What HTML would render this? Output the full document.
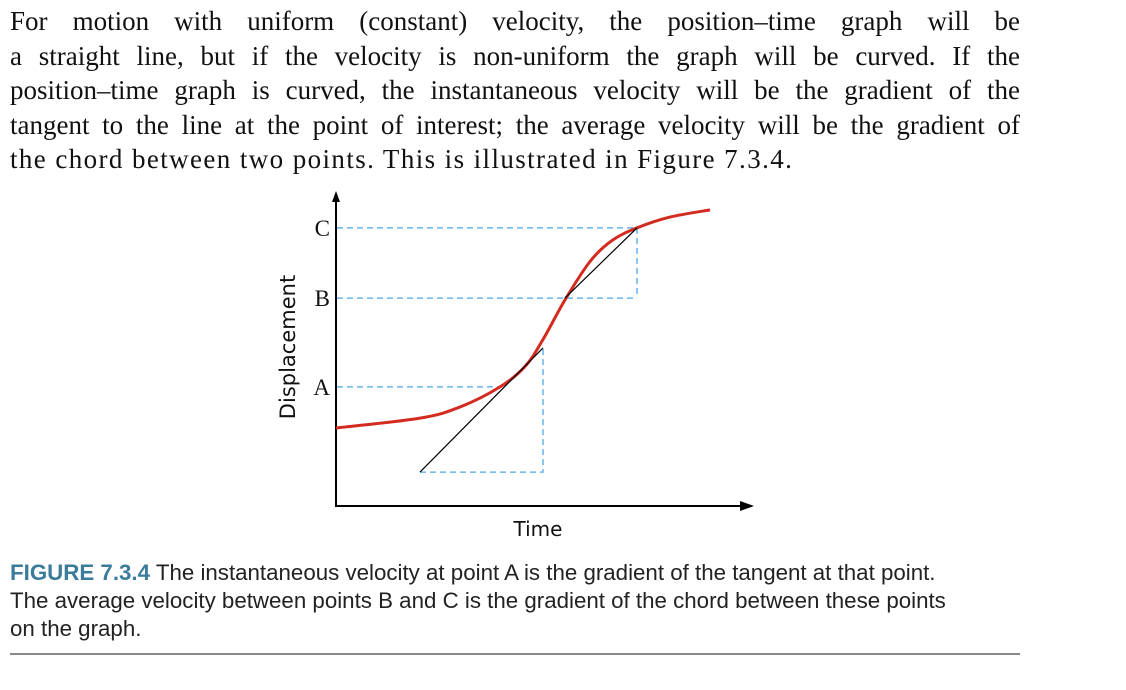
<!DOCTYPE html>
<html><head><meta charset="utf-8"><style>
body{margin:0;background:#fff;width:1126px;height:690px;overflow:hidden;position:relative}
#para{position:absolute;left:10px;top:4px;width:1010px;font-family:"Liberation Serif",serif;font-size:27px;line-height:34.5px;color:#111}
#para div{text-align:justify;text-align-last:justify;white-space:nowrap}
#para div.last{text-align-last:left;letter-spacing:1.4px}
#cap{position:absolute;left:10px;top:559px;width:1050px;font-family:"Liberation Sans Narrow","Liberation Sans",sans-serif;font-size:22.3px;line-height:28px;color:#222}
#cap b{color:#3b7c9c}
#rule{position:absolute;left:10px;top:653px;width:1010px;height:2px;background:#8a8a8a}
svg{position:absolute;left:0;top:0}
</style></head><body>
<div id="para">
<div>For motion with uniform (constant) velocity, the position–time graph will be</div>
<div>a straight line, but if the velocity is non-uniform the graph will be curved. If the</div>
<div>position–time graph is curved, the instantaneous velocity will be the gradient of the</div>
<div>tangent to the line at the point of interest; the average velocity will be the gradient of</div>
<div class="last">the chord between two points. This is illustrated in Figure 7.3.4.</div>
</div>
<svg id="chart" width="1126" height="690"></svg>
<div id="cap"><b>FIGURE 7.3.4</b> The instantaneous velocity at point A is the gradient of the tangent at that point.<br>The average velocity between points B and C is the gradient of the chord between these points<br>on the graph.</div>
<div id="rule"></div>
<script>
const curveT=[0,21,31,41,47.25,51.75,57.25,63.5,69,75.25,83.5,93.5];
const curveD=[26,29.3,33,39.7,46.5,55.5,68.7,81.5,88.5,92.7,96.3,98.7];
const levelNames=["A","B","C"];
const levelD=[39.7,69.3,92.7];
const levelT=[41,75.25,75.25];
const tangentT=[21,51.75];
const tangentD=[11.3,52.7];
const chordT=[57.25,75.25];
const chordD=[69.3,92.7];
const NS="http://www.w3.org/2000/svg";
const svg=document.getElementById('chart');
const x=t=>336+t*4, y=d=>506-d*3;
function mk(tag,attrs){const e=document.createElementNS(NS,tag);for(const k in attrs)e.setAttribute(k,attrs[k]);svg.appendChild(e);return e;}
let e=mk('line',{x1:336,y1:506,x2:336,y2:200,stroke:'#000','stroke-width':2});


e=mk('polygon',{points:'336,191 332,202 340,202',fill:'#000'});


e=mk('line',{x1:335,y1:506,x2:742,y2:506,stroke:'#000','stroke-width':2});


e=mk('polygon',{points:'754,506 740,501 740,511',fill:'#000'});


const dash={stroke:'#4aa8e8','stroke-width':1.3,'stroke-dasharray':'6,4',fill:'none'};
levelD.forEach((d,i)=>{
  const l=mk('line',Object.assign({x1:337,y1:y(d),x2:x(levelT[i]),y2:y(d)},dash));
  
  
  const t=mk('text',{x:330,y:y(d)+8,'text-anchor':'end','font-family':'Liberation Serif, serif','font-size':23,fill:'#111'});
  t.textContent=levelNames[i];
  
  
});
e=mk('line',Object.assign({x1:x(chordT[1]),y1:y(chordD[1]),x2:x(chordT[1]),y2:y(chordD[0])},dash));


e=mk('path',Object.assign({d:`M${x(tangentT[0])},${y(tangentD[0])} H${x(tangentT[1])} V${y(tangentD[1])}`},dash));


const P=curveT.map((t,i)=>[x(t),y(curveD[i])]);
let d=`M${P[0][0]},${P[0][1]}`;
for(let i=0;i<P.length-1;i++){
  const p0=P[i-1]||P[i],p1=P[i],p2=P[i+1],p3=P[i+2]||p2;
  d+=` C${p1[0]+(p2[0]-p0[0])/6},${p1[1]+(p2[1]-p0[1])/6} ${p2[0]-(p3[0]-p1[0])/6},${p2[1]-(p3[1]-p1[1])/6} ${p2[0]},${p2[1]}`;
}
e=mk('path',{d:d,stroke:'#d42b20','stroke-width':3,fill:'none'});


e=mk('line',{x1:x(tangentT[0]),y1:y(tangentD[0]),x2:x(tangentT[1]),y2:y(tangentD[1]),stroke:'#000','stroke-width':1.2});


e=mk('line',{x1:x(chordT[0]),y1:y(chordD[0]),x2:x(chordT[1]),y2:y(chordD[1]),stroke:'#000','stroke-width':1.2});


e=mk('text',{x:538,y:536,'text-anchor':'middle','font-family':'DejaVu Sans, sans-serif','font-size':20,fill:'#111'});
e.textContent='Time';


e=mk('text',{x:0,y:0,'text-anchor':'middle','font-family':'DejaVu Sans, sans-serif','font-size':21,fill:'#111',transform:'translate(295,347) rotate(-90)'});
e.textContent='Displacement';


</script>
</body></html>
